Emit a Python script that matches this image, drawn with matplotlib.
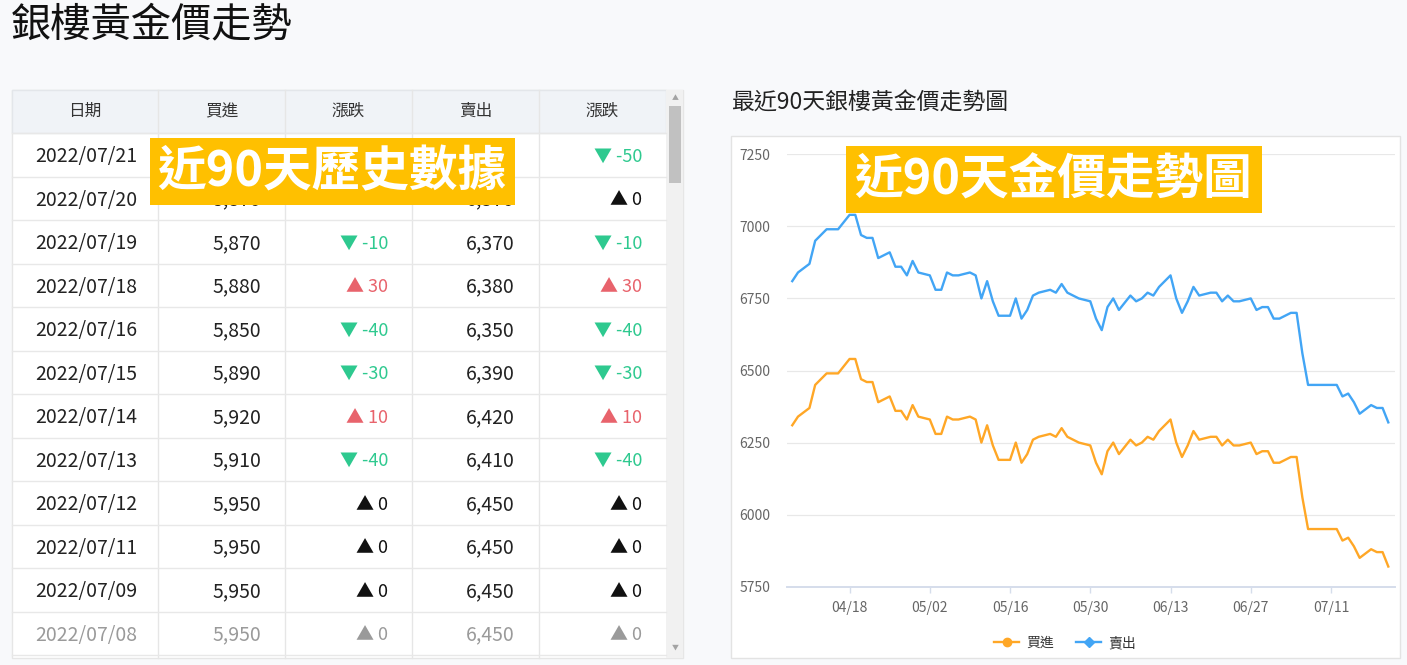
import datetime as dt
import matplotlib
matplotlib.use("Agg")
import matplotlib.pyplot as plt
from matplotlib.patches import Rectangle
from matplotlib.lines import Line2D

plt.rcParams['font.family'] = ['Noto Sans CJK TC', 'DejaVu Sans']

W, H = 1407, 665

# ---- chart data ----
day_labels = [
    "04/08", "04/09", "04/11", "04/12", "04/13", "04/14", "04/15", "04/16", "04/18", "04/19",
    "04/20", "04/21", "04/22", "04/23", "04/25", "04/26", "04/27", "04/28", "04/29", "04/30",
    "05/02", "05/03", "05/04", "05/05", "05/06", "05/07", "05/09", "05/10", "05/11", "05/12",
    "05/13", "05/14", "05/16", "05/17", "05/18", "05/19", "05/20", "05/21", "05/23", "05/24",
    "05/25", "05/26", "05/27", "05/28", "05/30", "05/31",
    "06/01", "06/02", "06/03", "06/04", "06/06", "06/07", "06/08", "06/09", "06/10", "06/11",
    "06/13", "06/14", "06/15", "06/16", "06/17", "06/18", "06/20", "06/21", "06/22", "06/23",
    "06/24", "06/25", "06/27", "06/28", "06/29", "06/30",
    "07/01", "07/02", "07/04", "07/05", "07/06", "07/07", "07/08", "07/09", "07/11", "07/12",
    "07/13", "07/14", "07/15", "07/16", "07/18", "07/19", "07/20", "07/21",
]
buy = [
    6310, 6340, 6370, 6450, 6470, 6490, 6490, 6490, 6540, 6540,
    6470, 6460, 6460, 6390, 6410, 6360, 6360, 6330, 6380, 6340,
    6330, 6280, 6280, 6340, 6330, 6330, 6340, 6330, 6250, 6310,
    6240, 6190, 6190, 6250, 6180, 6210, 6260, 6270, 6280, 6270,
    6300, 6270, 6260, 6250, 6240, 6180,
    6140, 6220, 6250, 6210, 6260, 6240, 6250, 6270, 6260, 6290,
    6330, 6250, 6200, 6240, 6290, 6260, 6270, 6270, 6240, 6260,
    6240, 6240, 6250, 6210, 6220, 6220,
    6180, 6180, 6200, 6200, 6060, 5950, 5950, 5950, 5950, 5950,
    5910, 5920, 5890, 5850, 5880, 5870, 5870, 5820,
]
sell = [
    6810, 6840, 6870, 6950, 6970, 6990, 6990, 6990, 7040, 7040,
    6970, 6960, 6960, 6890, 6910, 6860, 6860, 6830, 6880, 6840,
    6830, 6780, 6780, 6840, 6830, 6830, 6840, 6830, 6750, 6810,
    6740, 6690, 6690, 6750, 6680, 6710, 6760, 6770, 6780, 6770,
    6800, 6770, 6760, 6750, 6740, 6680,
    6640, 6720, 6750, 6710, 6760, 6740, 6750, 6770, 6760, 6790,
    6830, 6750, 6700, 6740, 6790, 6760, 6770, 6770, 6740, 6760,
    6740, 6740, 6750, 6710, 6720, 6720,
    6680, 6680, 6700, 6700, 6560, 6450, 6450, 6450, 6450, 6450,
    6410, 6420, 6390, 6350, 6380, 6370, 6370, 6320,
]
x_ticks = ["04/18", "05/02", "05/16", "05/30", "06/13", "06/27", "07/11"]
y_ticks = [5750, 6000, 6250, 6500, 6750, 7000, 7250]

# ---- table data ----
tbl_header = ["日期", "買進", "漲跌", "賣出", "漲跌"]
tbl_dates = ["2022/07/21", "2022/07/20", "2022/07/19", "2022/07/18", "2022/07/16", "2022/07/15",
             "2022/07/14", "2022/07/13", "2022/07/12", "2022/07/11", "2022/07/09", "2022/07/08"]
tbl_buy = [5820, 5870, 5870, 5880, 5850, 5890, 5920, 5910, 5950, 5950, 5950, 5950]
tbl_buy_chg = [-50, 0, -10, 30, -40, -30, 10, -40, 0, 0, 0, 0]
tbl_sell = [6320, 6370, 6370, 6380, 6350, 6390, 6420, 6410, 6450, 6450, 6450, 6450]
tbl_sell_chg = [-50, 0, -10, 30, -40, -30, 10, -40, 0, 0, 0, 0]

ORANGE = "#ffa726"
BLUE = "#42a5f5"
GREEN = "#2ec98f"
RED = "#e8636c"
YELLOW = "#ffc000"

fig = plt.figure(figsize=(W / 100, H / 100), dpi=100, facecolor="#f8f9fb")


def px_axes(left, top, width, height, **kw):
    return fig.add_axes([left / W, 1 - (top + height) / H, width / W, height / H], **kw)


bg = px_axes(0, 0, W, H, zorder=0)
bg.set_xlim(0, W)
bg.set_ylim(H, 0)
bg.axis("off")

# page title
bg.text(11, 25, "銀樓黃金價走勢", fontsize=29, fontweight="medium", va="center", ha="left",
        color="#111111")

# ---- table ----
col_edges = [12, 158, 285, 412, 539, 666]
head_top, head_h = 90, 43
row_h = 43.5
body_top = head_top + head_h
bg.add_patch(Rectangle((12, head_top), 671, 658 - head_top, facecolor="white",
                       edgecolor="#e6e6e6", lw=1))
bg.add_patch(Rectangle((12, head_top), 654, head_h, facecolor="#f0f3f7",
                       edgecolor="#e3e6ea", lw=1))
for xe in col_edges[1:-1]:
    bg.plot([xe, xe], [head_top, 658], color="#e6e6e6", lw=1)
for i in range(len(tbl_dates) + 1):
    y = body_top + i * row_h
    if y < 658:
        bg.plot([12, 666], [y, y], color="#e8e8e8", lw=1)

head_centers = [(col_edges[i] + col_edges[i + 1]) / 2 for i in range(5)]
for cx, name in zip(head_centers, tbl_header):
    bg.text(cx, head_top + head_h / 2, name, ha="center", va="center", fontsize=12, color="#333333")


def chg_text(v):
    if v < 0:
        return "▼ %d" % v, GREEN
    if v > 0:
        return "▲ %d" % v, RED
    return "▲ 0", "#111111"


right_edges = [261, 388, 515, 642]
for i, d in enumerate(tbl_dates):
    cy = body_top + i * row_h + row_h / 2 + 2
    faded = i == len(tbl_dates) - 1
    base = "#9a9a9a" if faded else "#222222"
    bg.text(86, cy, d, ha="center", va="center", fontsize=14, color=base)
    bg.text(right_edges[0], cy, f"{tbl_buy[i]:,}", ha="right", va="center", fontsize=14, color=base)
    t, c = chg_text(tbl_buy_chg[i])
    bg.text(right_edges[1], cy, t, ha="right", va="center", fontsize=13,
            color="#9a9a9a" if faded else c)
    bg.text(right_edges[2], cy, f"{tbl_sell[i]:,}", ha="right", va="center", fontsize=14, color=base)
    t, c = chg_text(tbl_sell_chg[i])
    bg.text(right_edges[3], cy, t, ha="right", va="center", fontsize=13,
            color="#9a9a9a" if faded else c)

# scrollbar
bg.add_patch(Rectangle((666, head_top), 17, 568, facecolor="#f1f1f1", edgecolor="none"))
bg.add_patch(Rectangle((669, 106), 12, 77, facecolor="#c1c1c1", edgecolor="none"))
bg.text(675, 98, "▲", ha="center", va="center", fontsize=5, color="#a3a3a3")
bg.text(675, 648, "▼", ha="center", va="center", fontsize=5, color="#a3a3a3")

# ---- chart panel ----
bg.text(731, 103, "最近90天銀樓黃金價走勢圖", ha="left", va="center", fontsize=16.5,
        fontweight="medium", color="#222222")
bg.add_patch(Rectangle((731, 136), 669, 522, facecolor="white", edgecolor="#e3e3e3", lw=1))

ax = px_axes(787, 154.3, 608, 432.4, zorder=1)
ax.patch.set_alpha(0)
dates = [dt.datetime.strptime("2022/" + s, "%Y/%m/%d") for s in day_labels]
ax.plot(dates, buy, color=ORANGE, lw=1.7, zorder=3)
ax.plot(dates, sell, color=BLUE, lw=1.7, zorder=3)

ax.set_ylim(y_ticks[0], y_ticks[-1])
ax.set_yticks(y_ticks)
ax.set_xlim(dates[0] - dt.timedelta(hours=22), dates[-1] + dt.timedelta(hours=28))
ax.set_xticks([dt.datetime.strptime("2022/" + s, "%Y/%m/%d") for s in x_ticks])
ax.set_xticklabels(x_ticks)
ax.grid(axis="y", color="#e8e8e8", lw=0.9)
ax.set_axisbelow(True)
for side in ["top", "right", "left"]:
    ax.spines[side].set_visible(False)
ax.spines["bottom"].set_color("#d5ddeb")
ax.spines["bottom"].set_linewidth(1.4)
ax.tick_params(axis="y", length=0, pad=12, labelsize=10, labelcolor="#666666")
ax.tick_params(axis="x", length=4, width=1, color="#d5ddeb", pad=6, labelsize=10, labelcolor="#666666")

handles = [
    Line2D([], [], color=ORANGE, lw=1.7, marker="o", markersize=6),
    Line2D([], [], color=BLUE, lw=1.7, marker="D", markersize=5),
]
fig.legend(handles, ["買進", "賣出"], loc="center", bbox_to_anchor=(1065 / W, 1 - 643 / H),
           ncol=2, frameon=False, fontsize=10, handlelength=1.8, columnspacing=1.6,
           handletextpad=0.5, labelcolor="#333333")

# ---- yellow overlay labels ----
ov = px_axes(0, 0, W, H, zorder=10)
ov.set_xlim(0, W)
ov.set_ylim(H, 0)
ov.axis("off")
ov.add_patch(Rectangle((150, 138), 365, 67, facecolor=YELLOW, edgecolor="none"))
ov.text(332, 172, "近90天歷史數據", ha="center", va="center", fontsize=35,
        fontweight="bold", color="white")
ov.add_patch(Rectangle((846, 146), 416, 67, facecolor=YELLOW, edgecolor="none"))
ov.text(1053, 180, "近90天金價走勢圖", ha="center", va="center", fontsize=35,
        fontweight="bold", color="white")

fig.savefig("out.png", dpi=100, facecolor=fig.get_facecolor())
